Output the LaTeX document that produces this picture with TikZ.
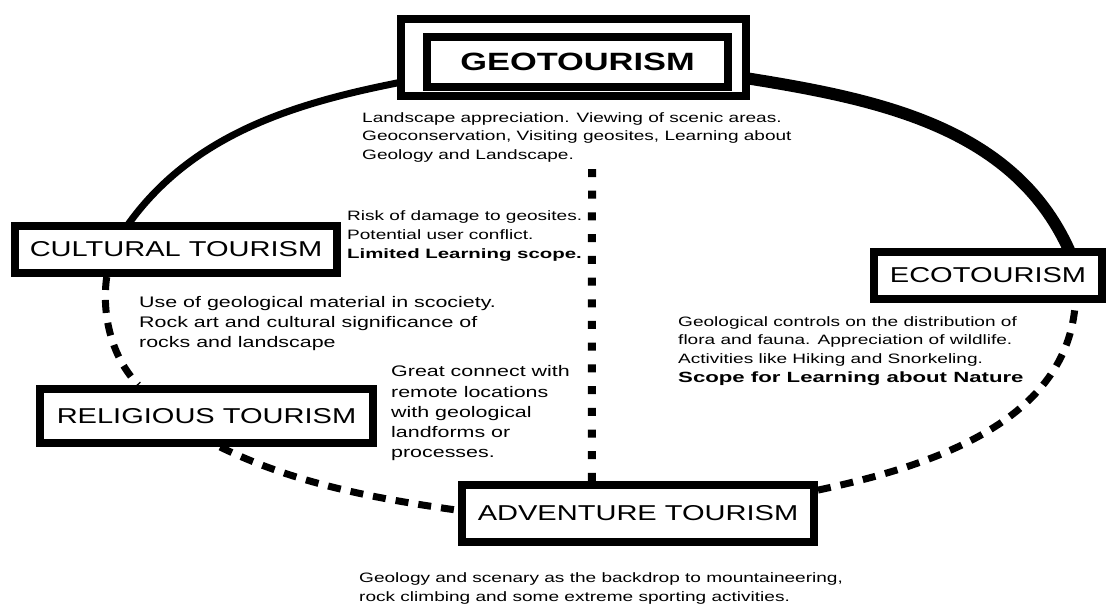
\documentclass[tikz,border=0pt]{standalone}
\usepackage{fontspec}
\setmainfont{Liberation Sans}
\newfontfamily\smallf{Liberation Sans}[FakeStretch=1.4]
\newfontfamily\smallbf{Liberation Sans Bold}[FakeStretch=1.5]
\newfontfamily\bigf{Liberation Sans}[FakeStretch=1.35]
\newfontfamily\geof{Liberation Sans Bold}[FakeStretch=1.375]
\usetikzlibrary{calc}
\pgfdeclarelayer{bg}
\pgfsetlayers{bg,main}
\begin{document}
\begin{tikzpicture}[x=1pt,y=1pt,
  box/.style={draw, line width=8pt, fill=white, inner sep=0pt,
    font=\bigf\fontsize{21.5}{24}\selectfont},
  note/.style={anchor=base west, align=left, inner sep=0pt,
    font=\smallf\fontsize{13.6}{18.7}\selectfont},
  notebig/.style={note, font=\smallf\fontsize{15.3}{20.3}\selectfont},
  solidthin/.style={line width=7pt, shorten <=-6pt, shorten >=-6pt},
  solidthick/.style={line width=12pt, shorten <=-8pt, shorten >=-8pt},
  dashseg/.style={line width=7pt, dash pattern=on 13pt off 10pt},
  dotline/.style={line width=8pt, dash pattern=on 8pt off 13.71pt}
]
\useasboundingbox (0,0) rectangle (1107,-603);

% boxes
\node[box, minimum width=345pt, minimum height=77pt] (geoframe) at (573.5,-57.5) {};
\node[box, minimum width=301pt, minimum height=50pt,
      font=\geof\fontsize{25}{28}\selectfont] (geo) at (577.5,-62) {GEOTOURISM};
\node[box, minimum width=322pt, minimum height=47pt] (cult) at (176,-249.5) {CULTURAL TOURISM};
\node[box, minimum width=333pt, minimum height=54pt] (relig) at (206.5,-416) {RELIGIOUS TOURISM};
\node[box, minimum width=228pt, minimum height=47pt] (eco) at (988,-275.5) {ECOTOURISM};
\node[box, minimum width=352pt, minimum height=57pt] (adv) at (638,-513.5) {ADVENTURE TOURISM};

% texts (anchor = baseline of the last line)
\node[note] (geotext) at (362,-159.4) {Landscape appreciation. Viewing of scenic areas.\\Geoconservation, Visiting geosites, Learning about\\Geology and Landscape.};
\node[note] (risk) at (347,-258.1) {Risk of damage to geosites.\\Potential user conflict.\\{\smallbf Limited Learning scope.}};
\node[notebig] (use) at (139,-347.6) {Use of geological material in scociety.\\Rock art and cultural significance of\\rocks and landscape};
\node[notebig] (great) at (391,-457.9) {Great connect with\\remote locations\\with geological\\landforms or\\processes.};
\node[note] (ecotext) at (678,-382.1) {Geological controls on the distribution of\\flora and fauna. Appreciation of wildlife.\\Activities like Hiking and Snorkeling.\\{\smallbf\fontsize{14.8}{18.7}\selectfont Scope for Learning about Nature}};
\node[note] (bottom) at (359,-601) {Geology and scenary as the backdrop to mountaineering,\\rock climbing and some extreme sporting activities.};

\coordinate (dtop) at (592,-169);

\begin{pgfonlayer}{bg}
\draw[solidthin] ($(cult.north west)!0.36!(cult.north east)$) to[out=55,in=191,looseness=0.9] ($(geoframe.north west)!0.8!(geoframe.south west)$);
\draw[solidthick] ($(geoframe.north east)!0.75!(geoframe.south east)$) to[out=-9,in=113,looseness=0.93] ($(eco.north west)!0.84!(eco.north east)$);
\draw[dashseg] ($(cult.south west)!0.29!(cult.south east)$) to[out=-98,in=134,looseness=0.87] ($(relig.north west)!0.30!(relig.north east)$);
\draw[dashseg] ($(relig.south west)!0.54!(relig.south east)$) to[out=-26,in=172,looseness=0.87] ($(adv.north west)!0.45!(adv.south west)$);
\draw[dashseg] ($(adv.north east)!0.14!(adv.south east)$) to[out=12,in=266,looseness=0.95] ($(eco.south west)!0.87!(eco.south east)$);
\draw[dotline] (dtop) -- ($(adv.north west)!0.372!(adv.north east)$);
\end{pgfonlayer}
\end{tikzpicture}
\end{document}
